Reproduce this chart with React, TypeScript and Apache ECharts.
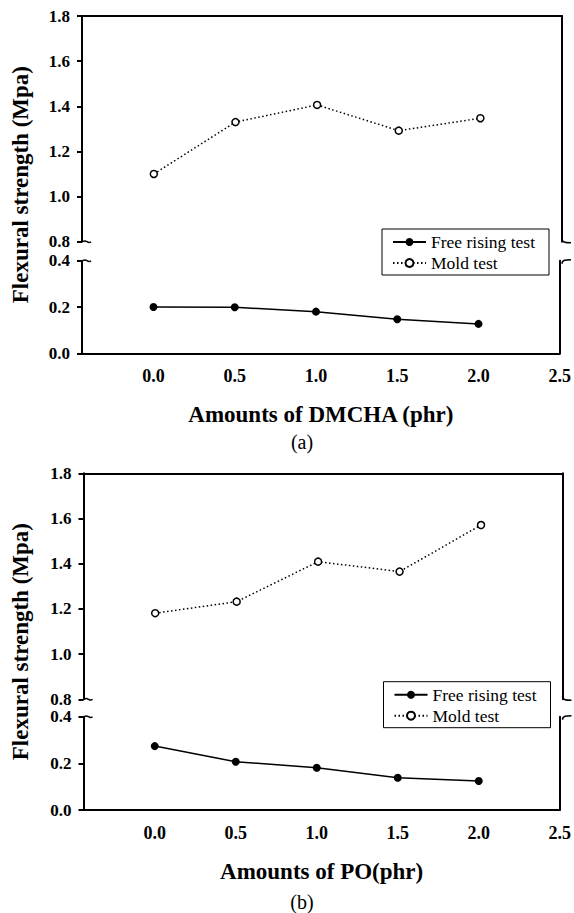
import React, { useEffect, useRef } from "react";
import * as echarts from "echarts";

// ---- data ----
const doses = [0, 0.5, 1.0, 1.5, 2.0];
const freeRisingA = [0.2, 0.199, 0.18, 0.147, 0.127];
const moldA = [1.1, 1.33, 1.406, 1.292, 1.347];
const freeRisingB = [0.274, 0.207, 0.181, 0.138, 0.124];
const moldB = [1.181, 1.232, 1.409, 1.365, 1.571];
const xTickValues = [0, 0.5, 1.0, 1.5, 2.0, 2.5];
const seriesNames = ["Free rising test", "Mold test"];
const xTitles = ["Amounts of DMCHA (phr)", "Amounts of PO(phr)"];
const panelTags = ["(a)", "(b)"];
const yTitle = "Flexural strength (Mpa)";

const X_MIN = -0.44;
const X_MAX = 2.5;
const W = 574;
const H = 913;
const FONT = "Liberation Serif";

const panels = [
  { left: 82, right: 12, upTop: 16, upH: 225.7, loTop: 260.7, loH: 92.6, legendLeft: 382, legendTop: 229, tagY: 442, free: freeRisingA, mold: moldA },
  { left: 83.5, right: 11.5, upTop: 473.3, upH: 226, loTop: 716.7, loH: 93.3, legendLeft: 383.5, legendTop: 681.7, tagY: 901.7, free: freeRisingB, mold: moldB },
];

function zip(xs: number[], ys: number[]) {
  return xs.map((x, i) => [x, ys[i]]);
}

function buildOption() {
  const grid: any[] = [];
  const xAxis: any[] = [];
  const yAxis: any[] = [];
  const series: any[] = [];
  const legend: any[] = [];
  const graphic: any[] = [];

  const axisLine = { show: true, onZero: false, lineStyle: { color: "#000", width: 2 } };
  const tickFont = { fontFamily: FONT, fontSize: 17, fontWeight: "bold", color: "#000" };

  panels.forEach((p, pi) => {
    const gUp = grid.length;
    grid.push({ left: p.left, right: p.right, top: p.upTop, height: p.upH });
    const gLo = grid.length;
    grid.push({ left: p.left, right: p.right, top: p.loTop, height: p.loH });

    const xUp = xAxis.length;
    xAxis.push({
      type: "value", gridIndex: gUp, min: X_MIN, max: X_MAX, position: "top",
      axisLine, axisTick: { show: false }, axisLabel: { show: false }, splitLine: { show: false },
    });
    const xLo = xAxis.length;
    xAxis.push({
      type: "value", gridIndex: gLo, min: X_MIN, max: X_MAX, position: "bottom",
      axisLine, axisTick: { show: false }, splitLine: { show: false },
      axisLabel: {
        ...tickFont, fontSize: 18, margin: 14, customValues: xTickValues,
        formatter: (v: number) => v.toFixed(1),
      },
      name: xTitles[pi], nameLocation: "middle", nameGap: 50,
      nameTextStyle: { fontFamily: FONT, fontSize: 23, fontWeight: "bold", color: "#000" },
    });

    const yTickCfg = { show: true, inside: false, length: 5, lineStyle: { color: "#000", width: 2 } };
    const yUp = yAxis.length;
    yAxis.push({
      type: "value", gridIndex: gUp, min: 0.8, max: 1.8, interval: 0.2, position: "left",
      axisLine, axisTick: yTickCfg, splitLine: { show: false },
      axisLabel: { ...tickFont, margin: 12, formatter: (v: number) => v.toFixed(1) },
    });
    yAxis.push({
      type: "value", gridIndex: gUp, min: 0.8, max: 1.8, position: "right",
      axisLine, axisTick: { show: false }, axisLabel: { show: false }, splitLine: { show: false },
    });
    const yLo = yAxis.length;
    yAxis.push({
      type: "value", gridIndex: gLo, min: 0, max: 0.4, interval: 0.2, position: "left",
      axisLine, axisTick: yTickCfg, splitLine: { show: false },
      axisLabel: { ...tickFont, margin: 12, formatter: (v: number) => v.toFixed(1) },
    });
    yAxis.push({
      type: "value", gridIndex: gLo, min: 0, max: 0.4, position: "right",
      axisLine, axisTick: { show: false }, axisLabel: { show: false }, splitLine: { show: false },
    });

    series.push({
      type: "line", name: seriesNames[0], xAxisIndex: xLo, yAxisIndex: yLo,
      data: zip(doses, p.free), symbol: "circle", symbolSize: 8,
      lineStyle: { color: "#000", width: 1.5, type: "solid" },
      itemStyle: { color: "#000" },
    });
    series.push({
      type: "line", name: seriesNames[1], xAxisIndex: xUp, yAxisIndex: yUp,
      data: zip(doses, p.mold), symbol: "circle", symbolSize: 7,
      lineStyle: { color: "#000", width: 1.5, type: [1.5, 2.5] },
      itemStyle: { color: "#fff", borderColor: "#000", borderWidth: 1.5 },
    });

    legend.push({
      orient: "vertical", left: p.legendLeft, top: p.legendTop,
      itemWidth: 33, itemHeight: 10, itemGap: 3, itemTextGap: 8,
      padding: [4, 14, 3, 10], borderColor: "#000", borderWidth: 1, borderRadius: 0,
      backgroundColor: "#fff", selectedMode: false,
      textStyle: { fontFamily: FONT, fontSize: 17.5, color: "#000" },
      data: seriesNames,
    });

    // y-axis title
    graphic.push({
      type: "text", x: 20, y: (p.upTop + p.loTop + p.loH) / 2, rotation: Math.PI / 2,
      style: { text: yTitle, fontFamily: FONT, fontSize: 23, fontWeight: "bold", fill: "#000", align: "center", verticalAlign: "middle" },
    });
    // panel tag
    graphic.push({
      type: "text", x: 302, y: p.tagY,
      style: { text: panelTags[pi], fontFamily: FONT, fontSize: 20, fill: "#000", align: "center", verticalAlign: "middle" },
    });

    // axis break marks
    const L = p.left;
    const R = W - p.right;
    const yb1 = p.upTop + p.upH;
    const yb2 = p.loTop;
    const breakStyle = { stroke: "#000", lineWidth: 1.5, fill: "none" };
    [yb1, yb2].forEach((yb) => {
      graphic.push({
        type: "bezierCurve", silent: true,
        shape: { x1: L + 1, y1: yb, cpx1: L + 4, cpy1: yb - 3, cpx2: L + 6, cpy2: yb + 3, x2: L + 9, y2: yb },
        style: breakStyle,
      });
    });
    graphic.push({
      type: "bezierCurve", silent: true,
      shape: { x1: R, y1: yb1 - 3, cpx1: R, cpy1: yb1 + 1, cpx2: R + 4, cpy2: yb1 + 1, x2: R + 9, y2: yb1 + 1 },
      style: breakStyle,
    });
    graphic.push({
      type: "bezierCurve", silent: true,
      shape: { x1: R, y1: yb2 + 3, cpx1: R, cpy1: yb2 - 1, cpx2: R + 4, cpy2: yb2 - 1, x2: R + 9, y2: yb2 - 1 },
      style: breakStyle,
    });
  });

  return {
    animation: false,
    backgroundColor: "#fff",
    grid, xAxis, yAxis, series, legend, graphic,
  };
}

export default function App() {
  const ref = useRef<HTMLDivElement>(null);
  useEffect(() => {
    document.body.style.margin = "0";
    if (!ref.current) return;
    const chart = echarts.init(ref.current, undefined, { renderer: "svg" });
    chart.setOption(buildOption() as any);
    return () => chart.dispose();
  }, []);
  return <div ref={ref} style={{ position: "absolute", left: 0, top: 0, width: W, height: H }} />;
}
